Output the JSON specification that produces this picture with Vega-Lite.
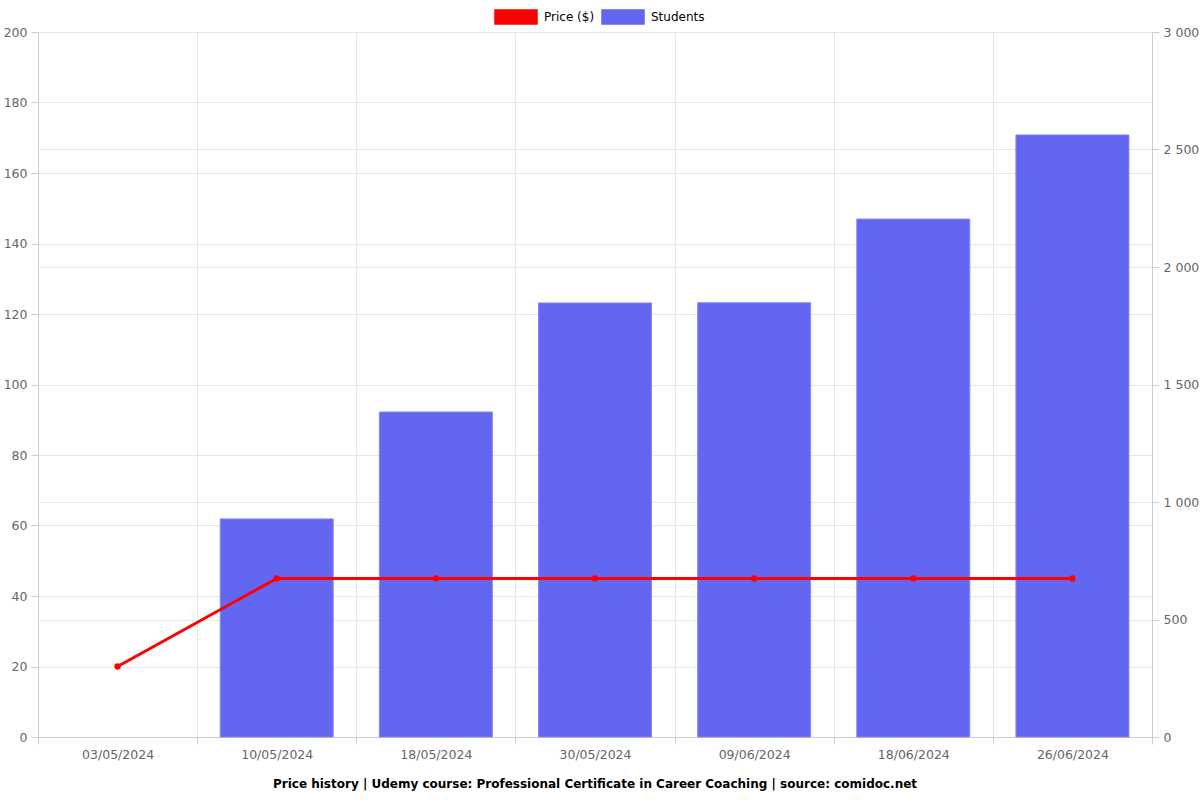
{
  "$schema": "https://vega.github.io/schema/vega-lite/v6.json",
  "width": 1114,
  "height": 705,
  "autosize": "none",
  "padding": {"left": 38, "top": 32, "right": 48, "bottom": 63},
  "background": "white",
  "config": {
    "font": "DejaVu Sans",
    "view": {"stroke": null},
    "axis": {
      "labelColor": "#666666",
      "labelFontSize": 12.5,
      "domainColor": "#cccccc",
      "tickColor": "#cccccc",
      "gridColor": "#e6e6e6",
      "titleFontSize": 12
    }
  },
  "title": {
    "text": "Price history | Udemy course: Professional Certificate in Career Coaching | source: comidoc.net",
    "orient": "bottom",
    "fontSize": 12,
    "fontWeight": "bold",
    "color": "#000000",
    "offset": 18,
    "anchor": "middle"
  },
  "data": {
    "values": [
      {"date": "03/05/2024", "price": 20, "students": null},
      {"date": "10/05/2024", "price": 45, "students": 928},
      {"date": "18/05/2024", "price": 45, "students": 1383},
      {"date": "30/05/2024", "price": 45, "students": 1847},
      {"date": "09/06/2024", "price": 45, "students": 1848},
      {"date": "18/06/2024", "price": 45, "students": 2204},
      {"date": "26/06/2024", "price": 45, "students": 2562}
    ]
  },
  "encoding": {
    "x": {
      "field": "date",
      "type": "ordinal",
      "sort": null,
      "scale": {
        "domain": ["03/05/2024", "10/05/2024", "18/05/2024", "30/05/2024", "09/06/2024", "18/06/2024", "26/06/2024"],
        "paddingInner": 0,
        "paddingOuter": 0
      },
      "axis": {
        "title": null,
        "labelAngle": 0,
        "tickBand": "extent",
        "grid": true,
        "tickSize": 7,
        "labelPadding": 4
      }
    }
  },
  "layer": [
    {
      "mark": {"type": "bar", "width": {"band": 0.71}, "stroke": "#8587f5", "strokeWidth": 1},
      "encoding": {
        "y": {
          "field": "students",
          "type": "quantitative",
          "scale": {"domain": [0, 3000]},
          "axis": {
            "orient": "right",
            "title": null,
            "values": [0, 500, 1000, 1500, 2000, 2500, 3000],
            "labelExpr": "replace(format(datum.value, ','), ',', ' ')",
            "grid": true,
            "tickSize": 7,
            "labelPadding": 4
          }
        },
        "color": {
          "datum": "Students",
          "type": "nominal",
          "scale": {"domain": ["Price ($)", "Students"], "range": ["#ff0000", "#6366f1"]},
          "legend": {
            "title": null,
            "orient": "none",
            "legendX": 456,
            "legendY": -37,
            "direction": "horizontal",
            "symbolType": "M-1,-0.333H1V0.333H-1Z",
            "symbolSize": 1764,
            "labelFontSize": 12,
            "labelColor": "#000000",
            "labelOffset": 6,
            "columnPadding": 4
          }
        }
      }
    },
    {
      "mark": {"type": "line", "color": "#ff0000", "strokeWidth": 3, "point": {"filled": true, "size": 40, "color": "#ff0000"}},
      "encoding": {
        "y": {
          "field": "price",
          "type": "quantitative",
          "scale": {"domain": [0, 200]},
          "axis": {
            "orient": "left",
            "title": null,
            "values": [0, 20, 40, 60, 80, 100, 120, 140, 160, 180, 200],
            "grid": true,
            "tickSize": 7,
            "labelPadding": 4
          }
        },
        "color": {"datum": "Price ($)", "type": "nominal"}
      }
    }
  ],
  "resolve": {"scale": {"y": "independent"}}
}
